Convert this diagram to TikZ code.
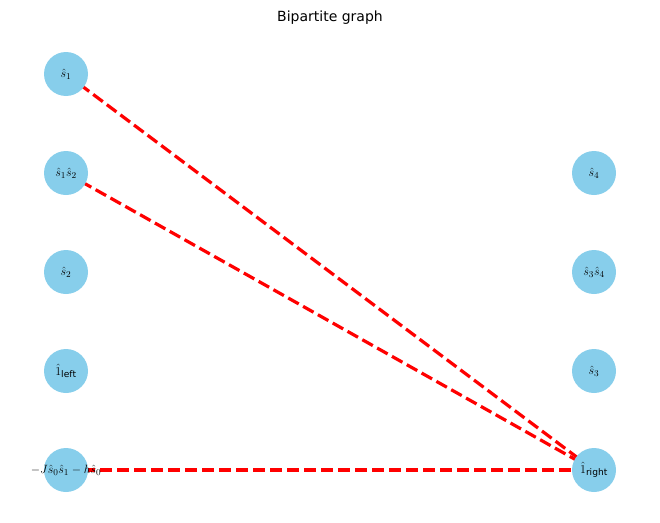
\documentclass[tikz,border=0pt]{standalone}
\usepackage{fontspec}
\setmainfont{DejaVu Sans}
\usetikzlibrary{backgrounds}
\definecolor{skyblue}{RGB}{135,206,235}
\tikzset{
  vert/.style={circle,fill=skyblue,minimum size=44pt,inner sep=0pt,font=\fontsize{13}{14}\selectfont},
  edge/.style={red,dashed,line width=3.2pt,dash pattern=on 12pt off 5pt}
}
\begin{document}
\begin{tikzpicture}[x=1pt,y=-1pt]
\useasboundingbox (0,0) rectangle (660,522);
\node at (330,18) {\fontsize{14}{16}\selectfont Bipartite graph};
% left side
\node[vert] (sa) at (66,74) {$\hat{s}_1$};
\node[vert] (sab) at (66,173) {$\hat{s}_1\hat{s}_2$};
\node[vert] (sb) at (66,272) {$\hat{s}_2$};
\node[vert] (oneL) at (66,371) {$\hat{1}_{\mathrm{left}}$};
\node[vert] (ham) at (66,470) {};
% right side
\node[vert] (sd) at (594,173) {$\hat{s}_4$};
\node[vert] (scd) at (594,272) {$\hat{s}_3\hat{s}_4$};
\node[vert] (sc) at (594,371) {$\hat{s}_3$};
\node[vert] (oneR) at (594,470) {$\hat{1}_{\mathrm{right}}$};
\begin{scope}[on background layer]
\draw[edge] (sa.center) -- (oneR.center);
\draw[edge] (sab.center) -- (oneR.center);
\draw[edge] (ham.center) -- (oneR.center);
\end{scope}
\node[font=\fontsize{13}{14}\selectfont] at (ham) {$-J\hat{s}_0\hat{s}_1-h\hat{s}_0$};
\end{tikzpicture}
\end{document}
